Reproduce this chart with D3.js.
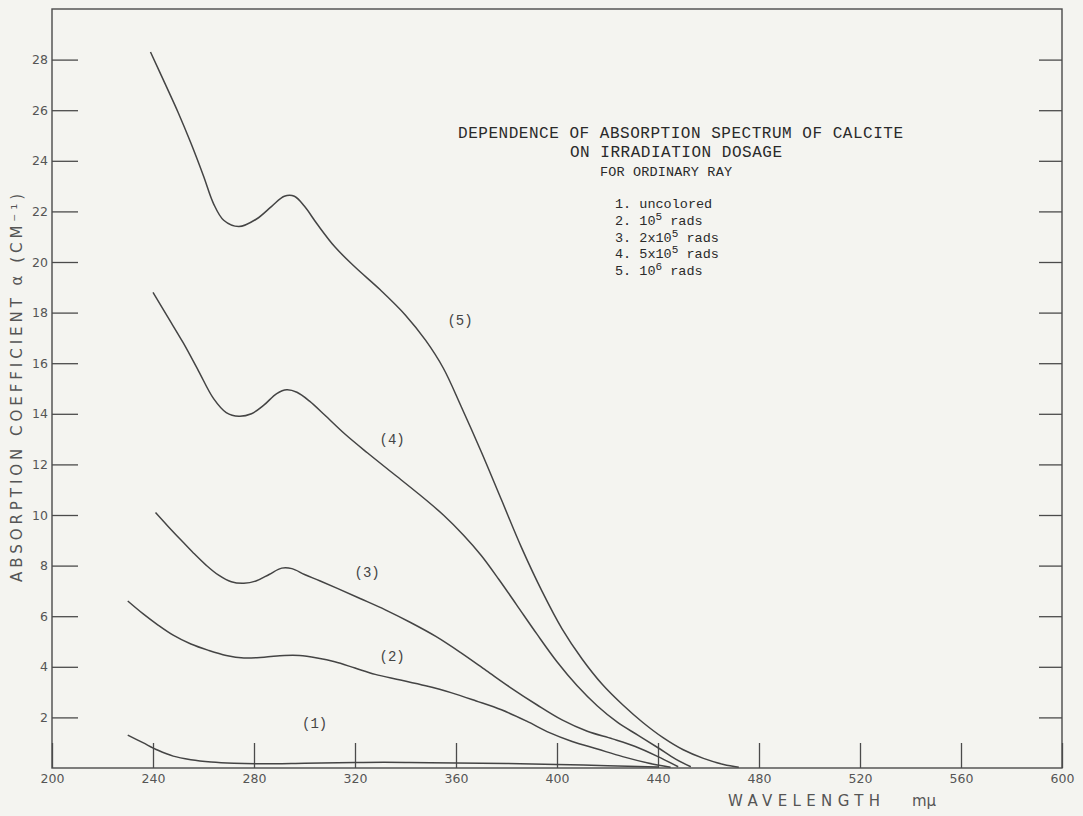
<!DOCTYPE html>
<html>
<head>
<meta charset="utf-8">
<script src="https://cdn.jsdelivr.net/npm/d3@7"></script>
<style>
  body { margin: 0; background: #f4f4f0; }
  svg { display: block; }
</style>
</head>
<body>
<script>
// values: [wavelength m\u03bc, absorption coefficient cm-1]
var curve1 = [[230,1.3],[236,1.0],[242,0.7],[248,0.47],[255,0.33],[263,0.24],[272,0.19],[282,0.17],[300,0.19],[320,0.22],[340,0.22],[360,0.2],[380,0.18],[400,0.14],[420,0.09],[440,0.04]];
var curve2 = [[230,6.6],[236,6.1],[242,5.65],[248,5.25],[255,4.9],[262,4.65],[269,4.45],[276,4.35],[284,4.38],[292,4.45],[298,4.45],[305,4.35],[312,4.2],[320,3.95],[328,3.7],[338,3.48],[348,3.25],[358,2.98],[368,2.65],[378,2.3],[388,1.85],[397,1.4],[406,1.05],[416,0.75],[426,0.45],[436,0.2],[445,0.03]];
var curve3 = [[241,10.1],[246,9.55],[251,9.02],[256,8.5],[261,8.02],[266,7.62],[271,7.36],[276,7.3],[281,7.4],[286,7.65],[291,7.9],[295,7.88],[300,7.65],[306,7.4],[313,7.1],[322,6.7],[332,6.25],[342,5.75],[352,5.2],[362,4.55],[372,3.85],[382,3.15],[392,2.5],[402,1.9],[412,1.45],[422,1.15],[431,0.85],[440,0.45],[448,0.05]];
var curve4 = [[240,18.8],[246,17.8],[252,16.8],[258,15.7],[264,14.6],[269,14.05],[274,13.9],[279,14.0],[284,14.35],[289,14.8],[293,14.95],[297,14.85],[302,14.5],[308,13.95],[316,13.2],[325,12.45],[335,11.65],[345,10.85],[355,10.0],[363,9.2],[370,8.4],[377,7.45],[384,6.45],[392,5.3],[400,4.2],[408,3.25],[416,2.45],[424,1.8],[432,1.3],[440,0.8],[447,0.35],[453,0.05]];
var curve5 = [[239,28.3],[245,27.0],[250,25.9],[255,24.7],[260,23.4],[264,22.3],[268,21.65],[274,21.4],[281,21.7],[287,22.2],[292,22.6],[296,22.6],[300,22.2],[305,21.5],[312,20.6],[320,19.8],[330,18.9],[340,17.9],[348,16.9],[355,15.8],[362,14.3],[370,12.5],[378,10.6],[386,8.7],[394,7.0],[402,5.5],[410,4.3],[418,3.3],[426,2.5],[434,1.8],[442,1.2],[450,0.72],[458,0.38],[466,0.14],[472,0.03]];

var curves = [curve1, curve2, curve3, curve4, curve5];
var curveNames = ["(1)", "(2)", "(3)", "(4)", "(5)"];
var curveNameAt = [[304,1.78],[334.7,4.43],[324.8,7.75],[334.7,13.0],[361.6,17.7]];

var xTickValues = [200,240,280,320,360,400,440,480,520,560,600];
var yTickValues = [2,4,6,8,10,12,14,16,18,20,22,24,26,28];

var titleLines = ["DEPENDENCE OF ABSORPTION SPECTRUM OF CALCITE", "ON IRRADIATION DOSAGE", "FOR ORDINARY RAY"];
var legendRows = [["1. uncolored", "", ""], ["2. 10", "5", " rads"], ["3. 2x10", "5", " rads"], ["4. 5x10", "5", " rads"], ["5. 10", "6", " rads"]];

var width = 1083, height = 816;
var ink = "#4b4b4b";

var svg = d3.select("body").append("svg")
    .attr("width", width)
    .attr("height", height);

var x = d3.scaleLinear().domain([200, 600]).range([52, 1062]);
var y = d3.scaleLinear().domain([0, 30]).range([768, 9]);

// frame
svg.append("rect")
    .attr("x", x(200)).attr("y", y(30))
    .attr("width", x(600) - x(200)).attr("height", y(0) - y(30))
    .style("fill", "none").style("stroke", ink).style("stroke-width", 1.4);

var gLeft = svg.append("g")
    .attr("transform", "translate(" + x(200) + ",0)")
    .call(d3.axisLeft(y).tickValues(yTickValues).tickSize(-26).tickPadding(4));

var gRight = svg.append("g")
    .attr("transform", "translate(" + x(600) + ",0)")
    .call(d3.axisRight(y).tickValues(yTickValues).tickSize(-23).tickFormat(""));

var gBottom = svg.append("g")
    .attr("transform", "translate(0," + y(0) + ")")
    .call(d3.axisBottom(x).tickValues(xTickValues).tickSize(-25).tickPadding(6));

[gLeft, gRight, gBottom].forEach(function(g){
    g.select(".domain").remove();
    g.selectAll(".tick line").style("stroke", ink).style("stroke-width", 1.3);
    g.selectAll(".tick text")
        .style("font-family", "'DejaVu Sans', sans-serif")
        .style("font-size", "12.5px")
        .style("fill", "#555");
});

// curves
var line = d3.line()
    .x(function(d){ return x(d[0]); })
    .y(function(d){ return y(d[1]); })
    .curve(d3.curveCatmullRom.alpha(0.5));

svg.selectAll(".curva")
    .data(curves)
    .enter().append("path")
    .attr("class", "curva")
    .attr("d", line)
    .style("fill", "none")
    .style("stroke", "#444")
    .style("stroke-width", 1.5);

svg.selectAll(".etiqueta")
    .data(curveNames)
    .enter().append("text")
    .attr("class", "etiqueta")
    .attr("x", function(d, i){ return x(curveNameAt[i][0]); })
    .attr("y", function(d, i){ return y(curveNameAt[i][1]); })
    .attr("dy", "0.35em")
    .attr("text-anchor", "middle")
    .style("font-family", "'Liberation Mono', monospace")
    .style("font-size", "14px")
    .style("fill", "#444")
    .text(function(d){ return d; });

// axis titles
svg.append("text")
    .attr("transform", "translate(22,388) rotate(-90)")
    .attr("text-anchor", "middle")
    .attr("textLength", 388)
    .attr("lengthAdjust", "spacing")
    .style("font-family", "'DejaVu Sans', sans-serif")
    .style("font-size", "15px")
    .style("fill", "#555")
    .text("ABSORPTION COEFFICIENT \u03b1 (CM\u207b\u00b9)");

svg.append("text")
    .attr("x", 728).attr("y", 806)
    .attr("textLength", 152)
    .attr("lengthAdjust", "spacing")
    .style("font-family", "'DejaVu Sans', sans-serif")
    .style("font-size", "15px")
    .style("fill", "#555")
    .text("WAVELENGTH");

svg.append("text")
    .attr("x", 912).attr("y", 806)
    .style("font-family", "'DejaVu Sans', sans-serif")
    .style("font-size", "15px")
    .style("fill", "#555")
    .text("m\u03bc");

// typed title
var titleX = [458, 570, 600], titleY = [138, 157, 176], titleW = [445, 212, 132], titleSize = [16, 16, 13.5];
svg.selectAll(".titulo")
    .data(titleLines)
    .enter().append("text")
    .attr("class", "titulo")
    .attr("x", function(d, i){ return titleX[i]; })
    .attr("y", function(d, i){ return titleY[i]; })
    .attr("textLength", function(d, i){ return titleW[i]; })
    .attr("lengthAdjust", "spacing")
    .style("font-family", "'Liberation Mono', monospace")
    .style("font-size", function(d, i){ return titleSize[i] + "px"; })
    .style("fill", "#2a2a2a")
    .text(function(d){ return d; });

var legend = svg.append("g").attr("transform", "translate(615,0)");
legendRows.forEach(function(r, i){
    var t = legend.append("text")
        .attr("x", 0).attr("y", 208 + i * 16.8)
        .style("font-family", "'Liberation Mono', monospace")
        .style("font-size", "13.5px")
        .style("fill", "#2a2a2a");
    t.append("tspan").text(r[0]);
    if (r[1]) {
        t.append("tspan").attr("dy", -5).style("font-size", "11px").text(r[1]);
        t.append("tspan").attr("dy", 5).text(r[2]);
    }
});
</script>
</body>
</html>
